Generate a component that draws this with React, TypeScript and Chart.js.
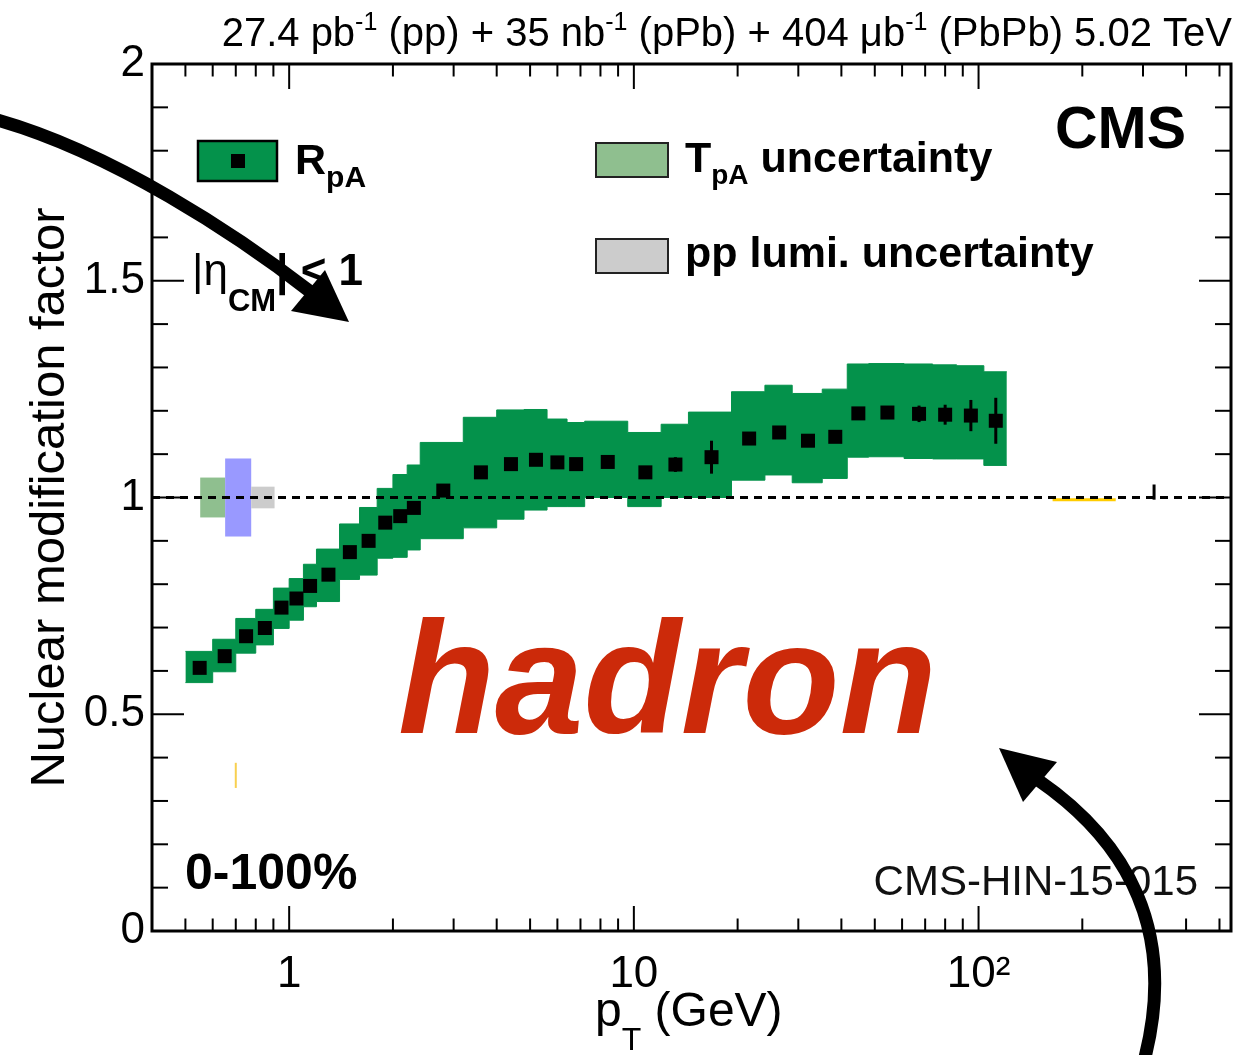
import { useEffect, useRef } from 'react';
import { Chart, registerables } from 'chart.js';

Chart.register(...registerables);

const W = 1258;
const H = 1055;
const FONT = "'Liberation Sans', Arial, Helvetica, sans-serif";
const GREEN = '#04924B';

// pT binning of the charged-hadron R_pA measurement (GeV)
const PT_EDGES = [0.5, 0.6, 0.7, 0.8, 0.9, 1.0, 1.1, 1.2, 1.4, 1.6, 1.8, 2.0, 2.2, 2.4, 3.2, 4.0, 4.8, 5.6, 6.4, 7.2, 9.6, 12.0, 14.4, 19.2, 24.0, 28.8, 35.2, 41.6, 48.0, 60.8, 73.6, 86.4, 103.6, 120.8];
const PT_CENTERS = [0.55, 0.65, 0.75, 0.85, 0.95, 1.05, 1.15, 1.3, 1.5, 1.7, 1.9, 2.1, 2.3, 2.8, 3.6, 4.4, 5.2, 6.0, 6.8, 8.4, 10.8, 13.2, 16.8, 21.6, 26.4, 32.0, 38.4, 44.8, 54.4, 67.2, 80.0, 95.0, 112.2];
const RPA = [0.607, 0.634, 0.680, 0.699, 0.746, 0.767, 0.796, 0.822, 0.874, 0.900, 0.942, 0.957, 0.976, 1.016, 1.058, 1.077, 1.087, 1.081, 1.077, 1.082, 1.058, 1.076, 1.093, 1.136, 1.150, 1.131, 1.140, 1.194, 1.196, 1.193, 1.191, 1.189, 1.177];
const STAT_ERR = [0.003, 0.003, 0.003, 0.003, 0.003, 0.003, 0.003, 0.003, 0.003, 0.003, 0.003, 0.003, 0.003, 0.004, 0.004, 0.005, 0.005, 0.006, 0.006, 0.006, 0.008, 0.017, 0.038, 0.010, 0.010, 0.010, 0.010, 0.012, 0.014, 0.019, 0.023, 0.036, 0.053];
// systematic band, lower and upper edge per bin
const SYS_LOW = [0.573, 0.598, 0.641, 0.660, 0.698, 0.717, 0.748, 0.760, 0.811, 0.821, 0.860, 0.862, 0.879, 0.905, 0.930, 0.950, 0.971, 0.979, 0.979, 1.000, 0.979, 1.000, 1.000, 1.040, 1.052, 1.034, 1.044, 1.093, 1.094, 1.090, 1.089, 1.089, 1.074];
const SYS_HIGH = [0.645, 0.673, 0.721, 0.742, 0.791, 0.813, 0.846, 0.881, 0.939, 0.977, 1.021, 1.053, 1.075, 1.127, 1.185, 1.202, 1.203, 1.181, 1.173, 1.176, 1.150, 1.169, 1.197, 1.244, 1.259, 1.240, 1.250, 1.308, 1.309, 1.308, 1.306, 1.304, 1.290];

// global normalisation uncertainties around unity: T_pA, combined, pp luminosity
const NORM_LO = [0.552, 0.652, 0.776];
const NORM_HI = [0.652, 0.776, 0.907];
const NORM_ERR = [0.046, 0.090, 0.025];
const NORM_COLORS = ['#8FBF8F', '#9999FF', '#CCCCCC'];

// stray marks near unity and at low R
const YELLOW_SEG_X = [164, 250];
const YELLOW_SEG_Y = 0.995;
const YELLOW_BAR_X = 0.70;
const YELLOW_BAR_Y = [0.33, 0.388];
const LONE_BAR_X = 323;
const LONE_BAR_Y = [0.995, 1.03];

const X_MIN = 0.4;
const X_MAX = 540;
const Y_MIN = 0;
const Y_MAX = 2;
const X_LABEL_TICKS = [1, 10, 100];
const X_LABELS = ['1', '10', '10\u00B2'];
const Y_LABEL_TICKS = [0, 0.5, 1, 1.5, 2];
const Y_LABELS = ['0', '0.5', '1', '1.5', '2'];

type Run = { text: string; size: number; bold?: boolean; italic?: boolean; dy?: number };

function runFont(r: Run) {
  return `${r.italic ? 'italic ' : ''}${r.bold ? 'bold ' : ''}${r.size}px ${FONT}`;
}

function drawRuns(ctx: CanvasRenderingContext2D, runs: Run[], x: number, y: number, align: 'left' | 'right' | 'center' = 'left') {
  ctx.textAlign = 'left';
  ctx.textBaseline = 'alphabetic';
  const widths = runs.map((r) => {
    ctx.font = runFont(r);
    return ctx.measureText(r.text).width;
  });
  const total = widths.reduce((a, b) => a + b, 0);
  let cx = align === 'right' ? x - total : align === 'center' ? x - total / 2 : x;
  runs.forEach((r, i) => {
    ctx.font = runFont(r);
    ctx.fillText(r.text, cx, y + (r.dy ?? 0));
    cx += widths[i];
  });
}

function seg(ctx: CanvasRenderingContext2D, x0: number, y0: number, x1: number, y1: number) {
  ctx.beginPath();
  ctx.moveTo(x0, y0);
  ctx.lineTo(x1, y1);
  ctx.stroke();
}

type P = [number, number];
function drawArrow(ctx: CanvasRenderingContext2D, p0: P, p1: P, p2: P, p3: P, tip: P, c1: P, c2: P) {
  ctx.beginPath();
  ctx.moveTo(p0[0], p0[1]);
  ctx.bezierCurveTo(p1[0], p1[1], p2[0], p2[1], p3[0], p3[1]);
  ctx.stroke();
  ctx.beginPath();
  ctx.moveTo(tip[0], tip[1]);
  ctx.lineTo(c1[0], c1[1]);
  ctx.lineTo(c2[0], c2[1]);
  ctx.closePath();
  ctx.fill();
}

const cmsDecor = {
  id: 'cmsDecor',
  beforeDatasetsDraw(chart: any) {
    const { ctx, chartArea } = chart;
    const xs = chart.scales.x;
    const ys = chart.scales.y;
    ctx.save();
    ctx.beginPath();
    ctx.rect(chartArea.left, chartArea.top, chartArea.right - chartArea.left, chartArea.bottom - chartArea.top);
    ctx.clip();
    NORM_LO.forEach((lo, i) => {
      const x0 = xs.getPixelForValue(lo);
      const x1 = xs.getPixelForValue(NORM_HI[i]);
      const y0 = ys.getPixelForValue(1 + NORM_ERR[i]);
      const y1 = ys.getPixelForValue(1 - NORM_ERR[i]);
      ctx.fillStyle = NORM_COLORS[i];
      ctx.fillRect(x0, y0, x1 - x0, y1 - y0);
    });
    ctx.strokeStyle = '#FFCC00';
    ctx.lineWidth = 3;
    seg(ctx, xs.getPixelForValue(YELLOW_SEG_X[0]), ys.getPixelForValue(YELLOW_SEG_Y), xs.getPixelForValue(YELLOW_SEG_X[1]), ys.getPixelForValue(YELLOW_SEG_Y));
    ctx.strokeStyle = '#F8D050';
    ctx.lineWidth = 2;
    seg(ctx, xs.getPixelForValue(YELLOW_BAR_X), ys.getPixelForValue(YELLOW_BAR_Y[0]), xs.getPixelForValue(YELLOW_BAR_X), ys.getPixelForValue(YELLOW_BAR_Y[1]));
    ctx.restore();
  },
  afterDatasetsDraw(chart: any) {
    const { ctx, chartArea } = chart;
    const { left, right, top, bottom } = chartArea;
    const xs = chart.scales.x;
    const ys = chart.scales.y;
    ctx.save();

    // statistical error bars
    ctx.strokeStyle = '#000';
    ctx.lineWidth = 3;
    PT_CENTERS.forEach((pt, i) => {
      const px = xs.getPixelForValue(pt);
      seg(ctx, px, ys.getPixelForValue(RPA[i] - STAT_ERR[i]), px, ys.getPixelForValue(RPA[i] + STAT_ERR[i]));
    });
    const lx = xs.getPixelForValue(LONE_BAR_X);
    seg(ctx, lx, ys.getPixelForValue(LONE_BAR_Y[0]), lx, ys.getPixelForValue(LONE_BAR_Y[1]));

    // frame with inward ticks on all four sides
    ctx.lineWidth = 2;
    const d0 = Math.floor(Math.log10(X_MIN));
    const d1 = Math.ceil(Math.log10(X_MAX));
    for (let d = d0; d <= d1; d++) {
      for (let k = 1; k <= 9; k++) {
        const v = k * Math.pow(10, d);
        if (v <= X_MIN * 1.001 || v >= X_MAX * 0.999) continue;
        const px = xs.getPixelForValue(v);
        const len = k === 1 ? 25 : 12.5;
        seg(ctx, px, bottom, px, bottom - len);
        seg(ctx, px, top, px, top + len);
      }
    }
    for (let i = 1; i < 20; i++) {
      const v = i / 10;
      const py = ys.getPixelForValue(v);
      const len = i % 5 === 0 ? 32 : 16;
      seg(ctx, left, py, left + len, py);
      seg(ctx, right, py, right - len, py);
    }
    ctx.lineWidth = 3;
    ctx.strokeRect(left, top, right - left, bottom - top);

    ctx.fillStyle = '#000';
    // header
    drawRuns(ctx, [
      { text: '27.4 pb', size: 40 },
      { text: '-1', size: 25, dy: -16 },
      { text: ' (pp) + 35 nb', size: 40 },
      { text: '-1', size: 25, dy: -16 },
      { text: ' (pPb) + 404 \u03BCb', size: 40 },
      { text: '-1', size: 25, dy: -16 },
      { text: ' (PbPb) 5.02 TeV', size: 40 },
    ], 1232, 46, 'right');

    // axis titles
    drawRuns(ctx, [
      { text: 'p', size: 48 },
      { text: 'T', size: 32, dy: 24 },
      { text: ' (GeV)', size: 48 },
    ], 595, 1026);
    ctx.save();
    ctx.translate(64, (top + bottom) / 2);
    ctx.rotate(-Math.PI / 2);
    ctx.font = `49px ${FONT}`;
    ctx.textAlign = 'center';
    ctx.textBaseline = 'alphabetic';
    ctx.fillText('Nuclear modification factor', 0, 0);
    ctx.restore();

    // labels inside the frame
    drawRuns(ctx, [{ text: 'CMS', size: 59, bold: true }], 1055, 148);
    drawRuns(ctx, [{ text: '0-100%', size: 50, bold: true }], 185, 889);
    ctx.fillStyle = '#111';
    drawRuns(ctx, [{ text: 'CMS-HIN-15-015', size: 42 }], 1198, 895, 'right');
    ctx.fillStyle = '#000';
    drawRuns(ctx, [
      { text: '|\u03B7', size: 44 },
      { text: 'CM', size: 31, bold: true, dy: 26 },
      { text: '| < 1', size: 44, bold: true },
    ], 192, 285);

    // legend
    ctx.fillStyle = GREEN;
    ctx.fillRect(198, 141, 79, 40);
    ctx.strokeStyle = '#000';
    ctx.lineWidth = 2.5;
    ctx.strokeRect(198, 141, 79, 40);
    ctx.fillStyle = '#000';
    ctx.fillRect(231, 154, 14, 14);
    drawRuns(ctx, [
      { text: 'R', size: 43, bold: true },
      { text: 'pA', size: 30, bold: true, dy: 13 },
    ], 295, 174);

    ctx.fillStyle = NORM_COLORS[0];
    ctx.fillRect(596, 143, 72, 34);
    ctx.lineWidth = 2;
    ctx.strokeStyle = '#222';
    ctx.strokeRect(596, 143, 72, 34);
    ctx.fillStyle = '#000';
    drawRuns(ctx, [
      { text: 'T', size: 43, bold: true },
      { text: 'pA', size: 28, bold: true, dy: 12 },
      { text: ' uncertainty', size: 43, bold: true },
    ], 685, 172);

    ctx.fillStyle = NORM_COLORS[2];
    ctx.fillRect(596, 239, 72, 34);
    ctx.strokeRect(596, 239, 72, 34);
    ctx.fillStyle = '#000';
    drawRuns(ctx, [{ text: 'pp lumi. uncertainty', size: 43, bold: true }], 685, 267);

    // particle species
    ctx.fillStyle = '#CC2A0A';
    drawRuns(ctx, [{ text: 'hadron', size: 159, bold: true, italic: true }], 398, 733);
    ctx.restore();
  },
  afterDraw(chart: any) {
    const { ctx } = chart;
    ctx.save();
    ctx.strokeStyle = '#000';
    ctx.fillStyle = '#000';
    ctx.lineWidth = 13;
    ctx.lineCap = 'butt';
    drawArrow(ctx, [-10, 118], [110, 150], [240, 237], [312, 293], [349, 322], [291, 311], [325, 270]);
    drawArrow(ctx, [1143, 1065], [1180, 930], [1125, 840], [1038, 780], [999, 748], [1057, 762], [1023, 802]);
    ctx.restore();
  },
};

function stepped(edges: number[], vals: number[]) {
  return edges.map((e, i) => ({ x: e, y: vals[Math.min(i, vals.length - 1)] }));
}

export default function App() {
  const ref = useRef<HTMLCanvasElement>(null);

  useEffect(() => {
    const canvas = ref.current;
    if (!canvas) return;
    const tickFont = { family: FONT, size: 44 };
    const chart = new Chart(canvas, {
      type: 'line',
      data: {
        datasets: [
          {
            label: 'R_pA',
            data: PT_CENTERS.map((pt, i) => ({ x: pt, y: RPA[i] })),
            showLine: false,
            pointStyle: 'rect',
            pointRadius: 9.9,
            pointBackgroundColor: '#000',
            pointBorderWidth: 0,
            order: 0,
          },
          {
            label: 'unity',
            data: [{ x: X_MIN, y: 1 }, { x: X_MAX, y: 1 }],
            borderColor: '#000',
            borderWidth: 3,
            borderDash: [8, 6],
            pointRadius: 0,
            fill: false,
            order: 1,
          },
          {
            label: 'sys high',
            data: stepped(PT_EDGES, SYS_HIGH),
            stepped: 'before',
            borderColor: GREEN,
            borderWidth: 1,
            pointRadius: 0,
            fill: false,
            order: 2,
          },
          {
            label: 'sys low',
            data: stepped(PT_EDGES, SYS_LOW),
            stepped: 'before',
            borderColor: GREEN,
            borderWidth: 1,
            pointRadius: 0,
            fill: '-1',
            backgroundColor: GREEN,
            order: 3,
          },
        ],
      } as any,
      options: {
        responsive: false,
        animation: false,
        devicePixelRatio: 1,
        layout: { padding: { top: 64, right: 27, left: 0, bottom: 0 } },
        plugins: { legend: { display: false }, tooltip: { enabled: false } },
        scales: {
          x: {
            type: 'logarithmic',
            min: X_MIN,
            max: X_MAX,
            grid: { display: false, drawTicks: false },
            border: { display: false },
            afterBuildTicks: (s: any) => {
              s.ticks = X_LABEL_TICKS.map((v) => ({ value: v }));
            },
            afterFit: (s: any) => {
              s.height = H - 931;
            },
            ticks: {
              font: tickFont,
              color: '#000',
              padding: 17,
              maxRotation: 0,
              autoSkip: false,
              callback: (v: any) => {
                const i = X_LABEL_TICKS.indexOf(Number(v));
                return i >= 0 ? X_LABELS[i] : '';
              },
            },
          },
          y: {
            type: 'linear',
            min: Y_MIN,
            max: Y_MAX,
            grid: { display: false, drawTicks: false },
            border: { display: false },
            afterBuildTicks: (s: any) => {
              s.ticks = Y_LABEL_TICKS.map((v) => ({ value: v }));
            },
            afterFit: (s: any) => {
              s.width = 152;
            },
            ticks: {
              font: tickFont,
              color: '#000',
              padding: 7,
              callback: (v: any) => {
                const i = Y_LABEL_TICKS.indexOf(Number(v));
                return i >= 0 ? Y_LABELS[i] : '';
              },
            },
          },
        },
      } as any,
      plugins: [cmsDecor],
    });
    return () => chart.destroy();
  }, []);

  return (
    <div style={{ position: 'absolute', left: 0, top: 0, width: W, height: H, background: '#fff' }}>
      <canvas ref={ref} width={W} height={H} style={{ display: 'block', width: W, height: H }} />
    </div>
  );
}
